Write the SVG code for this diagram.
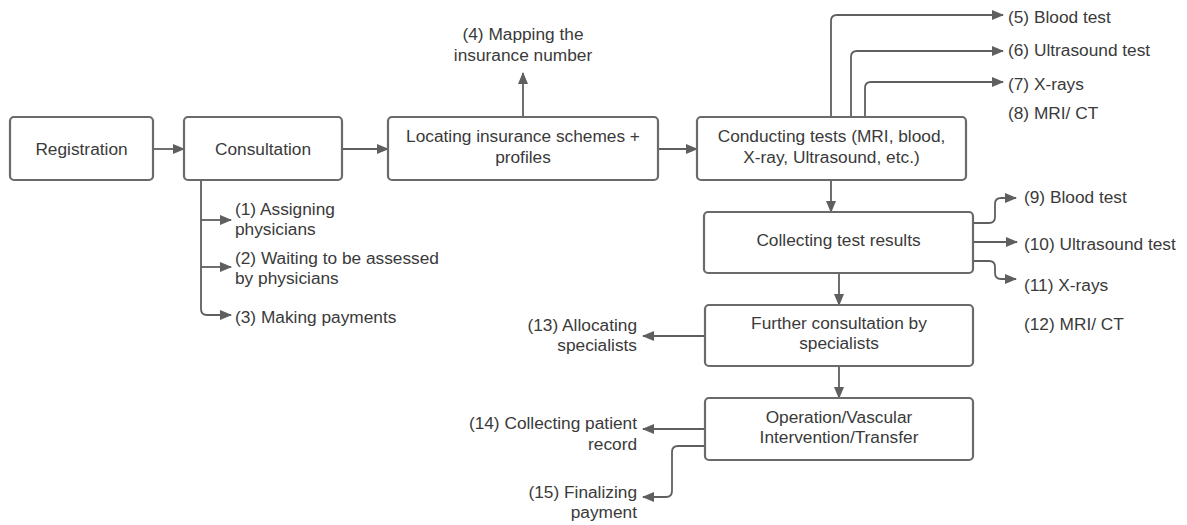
<svg xmlns="http://www.w3.org/2000/svg" width="1187" height="525" viewBox="0 0 1187 525">
<defs>
<marker id="ah" markerUnits="userSpaceOnUse" markerWidth="12" markerHeight="10" refX="11" refY="5" orient="auto">
<path d="M0,0 L12,5 L0,10 Z" fill="#5f5f5f"/>
</marker>
<style>
.box{fill:#fff;stroke:#6a6a6a;stroke-width:2.2}
.t{font-family:"Liberation Sans",Arial,sans-serif;font-size:17.3px;fill:#3a3a3a}
.c{text-anchor:middle}
.r{text-anchor:end}
.ln{fill:none;stroke:#5f5f5f;stroke-width:1.8;marker-end:url(#ah)}
</style>
</defs>
<rect width="1187" height="525" fill="#fff"/>
<g id="connectors">
<path class="ln" d="M153 149 H184"/>
<path class="ln" d="M342 149 H388"/>
<path class="ln" d="M658 149 H697"/>
<path class="ln" d="M523 117 V73"/>
<path class="ln" d="M831 117 V21 Q831 15 837 15 H1003"/>
<path class="ln" d="M851 117 V57 Q851 51 857 51 H1003"/>
<path class="ln" d="M865 117 V88 Q865 82 871 82 H1003"/>
<path class="ln" d="M831 180 V212"/>
<path class="ln" d="M973 223 H989 Q995 223 995 217 V204 Q995 198 1001 198 H1016"/>
<path class="ln" d="M973 242 H1017"/>
<path class="ln" d="M973 261 H989 Q995 261 995 267 V273 Q995 279 1001 279 H1016"/>
<path class="ln" d="M839 273 V305"/>
<path class="ln" d="M839 366 V398"/>
<path class="ln" d="M705 336 H643"/>
<path class="ln" d="M705 429 H643"/>
<path class="ln" d="M705 446 H678 Q672 446 672 452 V491 Q672 497 666 497 H643"/>
<path class="ln" d="M201 180 V309 Q201 315 207 315 H231"/>
<path class="ln" d="M201 220 H231"/>
<path class="ln" d="M201 267 H231"/>
</g>
<g id="registration">
<rect class="box" x="10" y="117" width="143" height="63" rx="4"/>
<text class="t c" x="81.5" y="155">Registration</text>
</g>
<g id="consultation">
<rect class="box" x="184" y="117" width="158" height="63" rx="4"/>
<text class="t c" x="263" y="155">Consultation</text>
</g>
<g id="locating">
<rect class="box" x="388" y="117" width="270" height="63" rx="4"/>
<text class="t c" x="523" y="142">Locating insurance schemes +</text>
<text class="t c" x="523" y="163">profiles</text>
</g>
<g id="conducting">
<rect class="box" x="697" y="117" width="269" height="63" rx="4"/>
<text class="t c" x="831.5" y="142">Conducting tests (MRI, blood,</text>
<text class="t c" x="831.5" y="163">X-ray, Ultrasound, etc.)</text>
</g>
<g id="collecting">
<rect class="box" x="704" y="212" width="269" height="61" rx="4"/>
<text class="t c" x="838.5" y="246">Collecting test results</text>
</g>
<g id="further">
<rect class="box" x="705" y="305" width="268" height="61" rx="4"/>
<text class="t c" x="839" y="329">Further consultation by</text>
<text class="t c" x="839" y="349">specialists</text>
</g>
<g id="operation">
<rect class="box" x="705" y="398" width="268" height="62" rx="4"/>
<text class="t c" x="839" y="423">Operation/Vascular</text>
<text class="t c" x="839" y="443">Intervention/Transfer</text>
</g>
<g id="labels">
<text class="t c" x="523" y="40">(4) Mapping the</text>
<text class="t c" x="523" y="61">insurance number</text>
<text class="t" x="1008" y="23">(5) Blood test</text>
<text class="t" x="1008" y="56">(6) Ultrasound test</text>
<text class="t" x="1008" y="90">(7) X-rays</text>
<text class="t" x="1008" y="119">(8) MRI/ CT</text>
<text class="t" x="1024" y="203">(9) Blood test</text>
<text class="t" x="1024" y="250">(10) Ultrasound test</text>
<text class="t" x="1024" y="291">(11) X-rays</text>
<text class="t" x="1024" y="330">(12) MRI/ CT</text>
<text class="t r" x="637" y="331">(13) Allocating</text>
<text class="t r" x="637" y="351">specialists</text>
<text class="t r" x="637" y="429">(14) Collecting patient</text>
<text class="t r" x="637" y="450">record</text>
<text class="t r" x="637" y="498">(15) Finalizing</text>
<text class="t r" x="637" y="518">payment</text>
<text class="t" x="235" y="215">(1) Assigning</text>
<text class="t" x="235" y="235">physicians</text>
<text class="t" x="235" y="264">(2) Waiting to be assessed</text>
<text class="t" x="235" y="284">by physicians</text>
<text class="t" x="235" y="323">(3) Making payments</text>
</g>
</svg>
